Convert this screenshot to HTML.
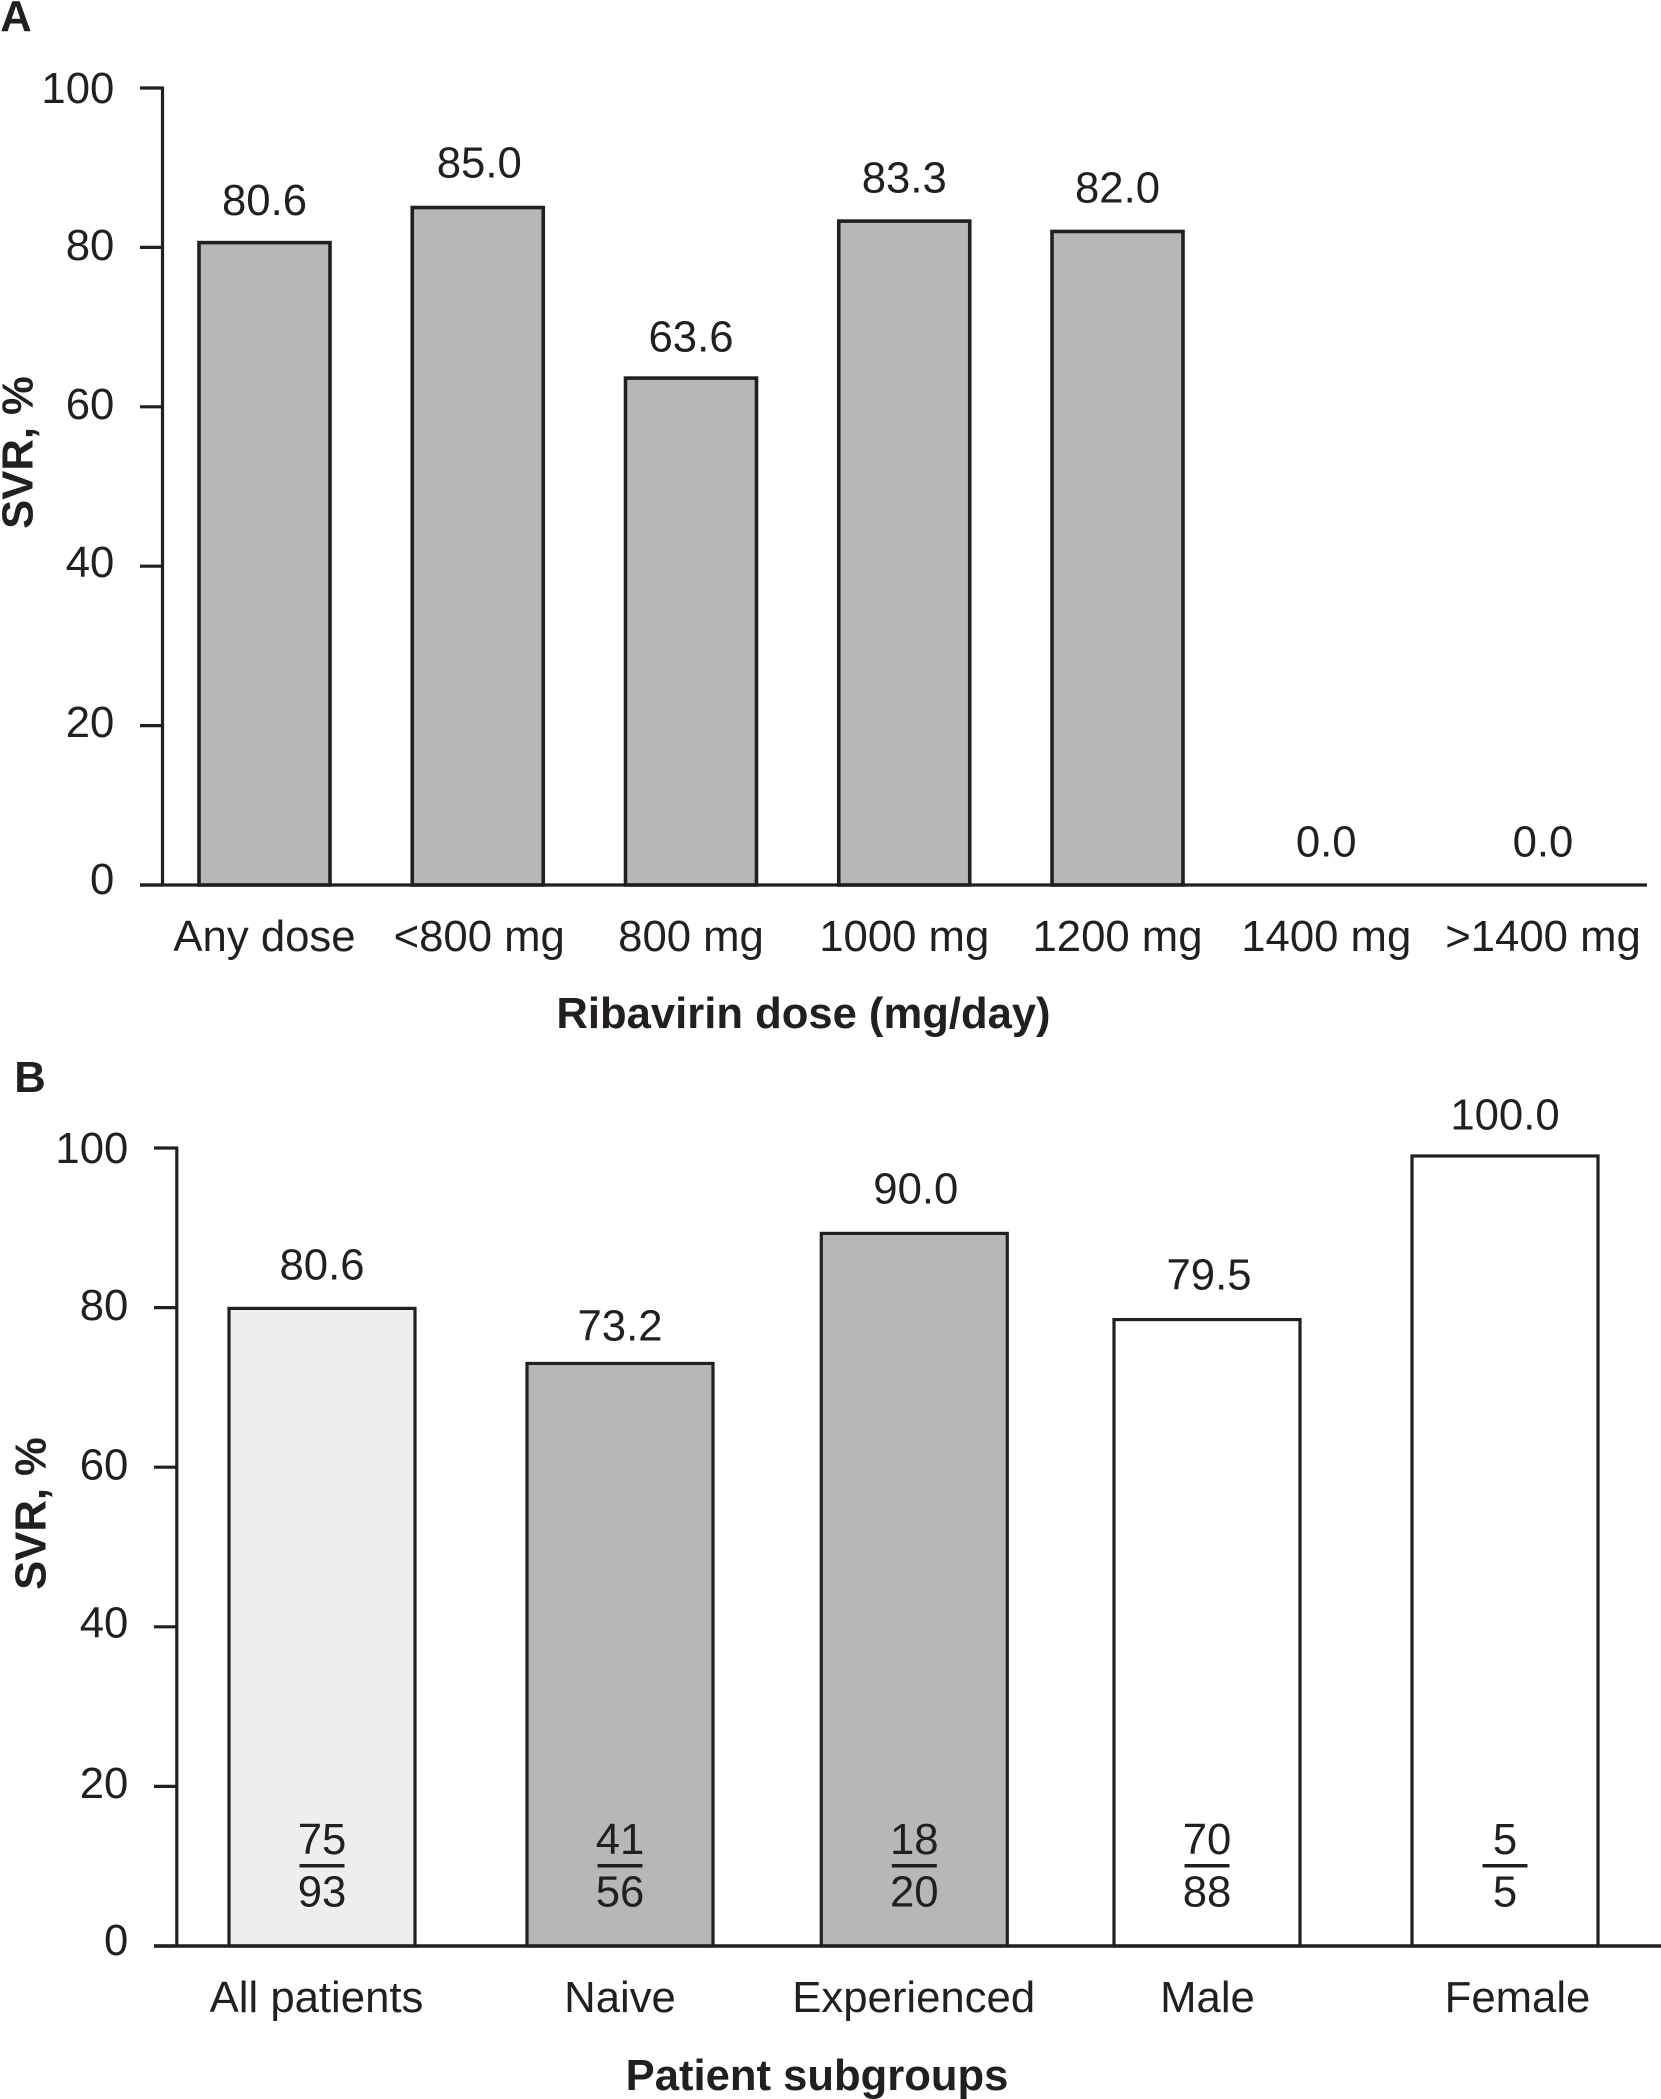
<!DOCTYPE html>
<html lang="en">
<head>
<meta charset="utf-8">
<title>SVR by ribavirin dose and patient subgroup</title>
<style>
html,body{margin:0;padding:0;background:#fff;}
body{width:1661px;height:2099px;overflow:hidden;}
svg{display:block;}
text{font-family:"Liberation Sans",Arial,sans-serif;font-size:43.7px;fill:#231f20;}
.b{font-weight:bold;font-size:43.6px;}
</style>
</head>
<body>
<svg id="figure" xmlns="http://www.w3.org/2000/svg" width="1661" height="2099" viewBox="0 0 1661 2099">
  <g id="panel-a"></g>
  <g id="panel-b"></g>
</svg>
<script>
// Panel A data
const doseCategories = ["Any dose", "<800 mg", "800 mg", "1000 mg", "1200 mg", "1400 mg", ">1400 mg"];
const doseValues = [80.6, 85.0, 63.6, 83.3, 82.0, 0, 0];
const dosePrinted = ["80.6", "85.0", "63.6", "83.3", "82.0", "0.0", "0.0"];
const doseYTicks = [0, 20, 40, 60, 80, 100];

// Panel B data
const subgroupCategories = ["All patients", "Naive", "Experienced", "Male", "Female"];
const subgroupValues = [79.9, 73.0, 89.3, 78.5, 99.0];
const subgroupPrinted = ["80.6", "73.2", "90.0", "79.5", "100.0"];
const subgroupResponders = ["75", "41", "18", "70", "5"];
const subgroupTotals = ["93", "56", "20", "88", "5"];
const subgroupYTicks = [0, 20, 40, 60, 80, 100];

const NS = "http://www.w3.org/2000/svg";
const INK = "#231f20";
const GREY = "#b6b7b9";
const PALE = "#eeeeef";

function el(parent, tag, attrs, txt) {
  const n = document.createElementNS(NS, tag);
  for (const k in attrs) n.setAttribute(k, attrs[k]);
  if (txt !== undefined) n.textContent = txt;
  parent.appendChild(n);
  return n;
}

function tickLabelShift(t) {
  let s = 8 + 0.07 * t;
  if (t === 0) s += 1;
  if (t === 20) s += 2;
  if (t === 80) s -= 1;
  return s;
}

function drawPanelA() {
  const g = document.getElementById("panel-a");
  const y = v => 885 - v * 7.97;
  const barCentre = i => 264.5 + i * 213.25;
  const labelNudge = [0, 1.5, 0, 0, 0, -4.5, -1];
  const gap = [27.7, 30, 26.5, 28.7, 29, 28.3, 28.3];

  let n = el(g, "text", {x: 0.3, y: 31, class: "b"}, "A");
  
  

  n = el(g, "text", {transform: "translate(32.5,452.5) rotate(-90)", "text-anchor": "middle", class: "b"}, "SVR, %");
  
  

  n = el(g, "text", {x: 803.5, y: 1028, "text-anchor": "middle", class: "b"}, "Ribavirin dose (mg/day)");
  
  

  n = el(g, "line", {x1: 162.5, x2: 162.5, y1: y(100) - 1.5, y2: y(0), stroke: INK, "stroke-width": 3.2});
  
  

  doseYTicks.forEach(t => {
    let m = el(g, "line", {x1: 140, x2: 162.5, y1: y(t), y2: y(t), stroke: INK, "stroke-width": 3.2});
    
    
    m = el(g, "text", {x: 114.3, y: y(t) + tickLabelShift(t), "text-anchor": "end"}, String(t));
    
    
  });

  doseCategories.forEach((c, i) => {
    const cx = barCentre(i);
    if (doseValues[i] > 0) {
      const m = el(g, "rect", {x: cx - 65.5, y: y(doseValues[i]), width: 131, height: y(0) - y(doseValues[i]), fill: GREY, stroke: INK, "stroke-width": 3.6});
      
      
    }
    let m = el(g, "text", {x: cx + labelNudge[i], y: y(doseValues[i]) - gap[i], "text-anchor": "middle"}, dosePrinted[i]);
    
    
    m = el(g, "text", {x: cx + labelNudge[i], y: 951, "text-anchor": "middle"}, c);
    
    
  });

  n = el(g, "line", {x1: 140, x2: 1647, y1: y(0), y2: y(0), stroke: INK, "stroke-width": 3.2});
  
  
}

function drawPanelB() {
  const g = document.getElementById("panel-b");
  const y = v => 1946 - v * 7.98;
  const barCentre = i => 322 + i * 296;
  const barNudge = [0, 2, 0.3, -3, -1];
  const textNudge = [0, 0, 1.5, 2, 0];
  const catNudge = [-5.5, 0, -0.6, 0.5, 12.5];
  const gap = [29, 23, 30, 30, 26.7];
  const fills = [PALE, GREY, GREY, "#ffffff", "#ffffff"];

  let n = el(g, "text", {x: 14.3, y: 1092, class: "b"}, "B");
  
  

  n = el(g, "text", {transform: "translate(45.7,1513.5) rotate(-90)", "text-anchor": "middle", class: "b"}, "SVR, %");
  
  

  n = el(g, "text", {x: 817, y: 2090, "text-anchor": "middle", class: "b"}, "Patient subgroups");
  
  

  n = el(g, "line", {x1: 176.8, x2: 176.8, y1: y(100) - 1.5, y2: y(0), stroke: INK, "stroke-width": 3.2});
  
  

  subgroupYTicks.forEach(t => {
    let m = el(g, "line", {x1: 154, x2: 176.8, y1: y(t), y2: y(t), stroke: INK, "stroke-width": 3.2});
    
    
    m = el(g, "text", {x: 128.3, y: y(t) + tickLabelShift(t), "text-anchor": "end"}, String(t));
    
    
  });

  subgroupCategories.forEach((c, i) => {
    const cx = barCentre(i) + barNudge[i];
    const tx = cx + textNudge[i];
    let m = el(g, "rect", {x: cx - 93, y: y(subgroupValues[i]), width: 186, height: y(0) - y(subgroupValues[i]), fill: fills[i], stroke: INK, "stroke-width": 3.2});
    
    

    m = el(g, "text", {x: tx, y: y(subgroupValues[i]) - gap[i], "text-anchor": "middle"}, subgroupPrinted[i]);
    
    

    m = el(g, "text", {x: cx, y: 1854, "text-anchor": "middle"}, subgroupResponders[i]);
    
    

    m = el(g, "line", {x1: cx - 22.5, x2: cx + 22.5, y1: 1865.7, y2: 1865.7, stroke: INK, "stroke-width": 3.5});
    
    

    m = el(g, "text", {x: cx, y: 1906.7, "text-anchor": "middle"}, subgroupTotals[i]);
    
    

    m = el(g, "text", {x: barCentre(i) + barNudge[i] + catNudge[i], y: 2012, "text-anchor": "middle"}, c);
    
    
  });

  n = el(g, "line", {x1: 154, x2: 1661, y1: y(0), y2: y(0), stroke: INK, "stroke-width": 3.6});
  
  
}

drawPanelA();
drawPanelB();
</script>
</body>
</html>
